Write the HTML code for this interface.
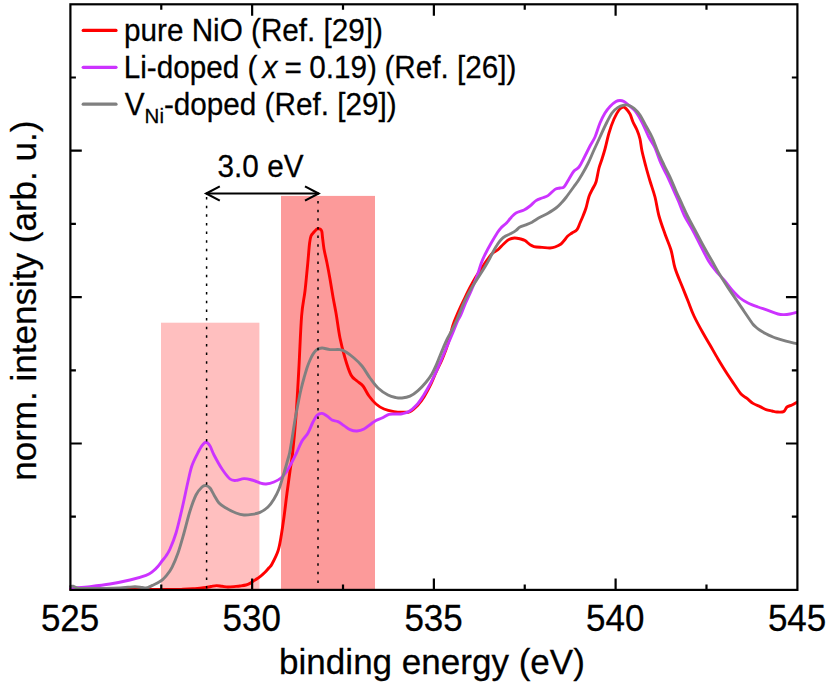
<!DOCTYPE html>
<html><head><meta charset="utf-8"><title>O K-edge XAS NiO</title>
<style>
html,body{margin:0;padding:0;background:#fff;}
body{width:830px;height:684px;overflow:hidden;}
svg{display:block;font-family:"Liberation Sans",sans-serif;}
</style></head><body>
<svg width="830" height="684" viewBox="0 0 830 684">
<rect width="830" height="684" fill="#fff"/>
<!-- shaded regions -->
<rect x="161" y="322.7" width="98.4" height="267.5" fill="#ffbfbf"/>
<rect x="281" y="195.9" width="94" height="394.3" fill="#fc9a9a"/>
<!-- curves -->
<g fill="none" stroke-width="2.9" stroke-linejoin="round" stroke-linecap="round">
<path stroke="#ff0000" d="M70.5 589.0C72.1 588.9 77.2 588.5 80.0 588.2C82.8 588.0 84.7 587.4 87.0 587.5C89.3 587.6 91.2 588.3 94.0 588.6C96.8 588.9 99.7 589.2 104.0 589.3C108.3 589.4 116.0 589.2 120.0 589.0C124.0 588.8 125.7 588.2 128.0 588.2C130.3 588.2 130.3 589.0 134.0 589.2C137.7 589.4 143.7 589.5 150.0 589.5C156.3 589.5 166.5 589.5 172.0 589.5C177.5 589.5 179.5 589.4 183.0 589.3C186.5 589.2 190.2 589.0 193.0 588.8C195.8 588.6 197.8 588.3 200.0 588.1C202.2 587.9 204.2 587.7 206.0 587.4C207.8 587.1 209.2 586.8 211.0 586.5C212.8 586.2 214.7 585.6 216.5 585.6C218.3 585.6 220.1 586.1 222.0 586.3C223.9 586.5 226.0 587.0 228.0 587.0C230.0 587.0 232.0 586.8 234.0 586.6C236.0 586.4 238.0 586.3 240.0 586.0C242.0 585.7 244.3 585.4 246.0 585.0C247.7 584.6 248.7 584.1 250.0 583.4C251.3 582.7 252.8 581.4 254.0 580.6C255.2 579.8 256.0 579.5 257.0 578.8C258.0 578.1 259.0 577.4 260.0 576.6C261.0 575.8 262.0 575.1 263.0 574.2C264.0 573.3 265.0 572.4 266.0 571.3C267.0 570.2 268.0 569.0 269.0 567.8C270.0 566.6 270.5 566.8 272.0 564.0C273.5 561.2 276.5 555.5 278.0 551.0C279.5 546.5 280.0 542.7 281.0 537.0C282.0 531.3 283.0 524.3 284.0 517.0C285.0 509.7 286.0 500.7 287.0 493.0C288.0 485.3 289.1 477.7 290.0 471.0C290.9 464.3 291.6 462.2 292.6 453.0C293.6 443.8 294.9 430.5 296.0 416.0C297.1 401.5 298.1 382.7 299.0 366.0C299.9 349.3 300.6 328.5 301.6 316.0C302.6 303.5 304.0 299.5 305.0 291.0C306.0 282.5 306.8 273.0 307.6 265.0C308.4 257.0 309.0 247.8 309.6 243.0C310.2 238.2 310.3 237.8 311.0 236.0C311.7 234.2 313.0 233.2 314.0 232.0C315.0 230.8 316.1 229.7 316.8 229.1C317.6 228.5 317.9 228.7 318.5 228.7C319.1 228.7 319.8 228.8 320.4 229.2C320.9 229.6 321.4 229.7 321.8 231.3C322.2 232.9 322.3 236.1 322.7 239.0C323.1 241.9 323.3 245.0 324.0 249.0C324.7 253.0 326.0 258.0 327.0 263.0C328.0 268.0 329.0 273.3 330.0 279.0C331.0 284.7 332.0 291.3 333.0 297.0C334.0 302.7 334.8 306.2 336.0 313.0C337.2 319.8 338.5 330.5 340.0 338.0C341.5 345.5 343.2 351.8 345.0 358.0C346.8 364.2 349.0 371.2 351.0 375.0C353.0 378.8 355.0 379.2 357.0 381.0C359.0 382.8 361.0 383.5 363.0 386.0C365.0 388.5 366.8 393.0 369.0 396.0C371.2 399.0 373.5 401.8 376.0 404.0C378.5 406.2 381.0 407.7 384.0 409.0C387.0 410.3 391.0 411.1 394.0 411.6C397.0 412.1 399.3 412.2 402.0 412.2C404.7 412.2 407.3 412.8 410.0 411.6C412.7 410.4 415.7 407.4 418.0 405.0C420.3 402.6 422.0 400.2 424.0 397.0C426.0 393.8 428.0 390.2 430.0 386.0C432.0 381.8 434.1 376.5 436.2 372.0C438.2 367.5 440.2 364.0 442.3 359.0C444.4 354.0 446.8 347.5 448.5 342.0C450.2 336.5 451.3 330.4 452.7 326.0C454.1 321.6 454.8 320.0 456.6 315.8C458.4 311.6 461.2 305.6 463.4 301.0C465.6 296.4 467.6 292.0 469.7 288.0C471.8 284.0 473.5 280.8 475.8 277.0C478.1 273.2 481.1 268.8 483.7 265.0C486.3 261.2 489.4 256.5 491.7 254.0C494.0 251.5 495.6 251.7 497.6 250.0C499.6 248.3 501.7 245.7 503.6 244.0C505.5 242.3 507.1 240.6 508.9 239.6C510.7 238.6 512.5 238.1 514.5 238.0C516.5 237.9 519.0 238.6 520.8 239.0C522.5 239.4 523.5 239.7 525.0 240.6C526.5 241.5 528.5 243.6 530.0 244.6C531.5 245.6 532.0 246.1 534.0 246.6C536.0 247.1 539.3 247.2 542.0 247.4C544.7 247.6 547.8 248.1 550.0 248.0C552.2 247.9 553.2 247.7 555.0 247.0C556.8 246.3 559.3 245.2 561.0 244.0C562.7 242.8 563.9 240.8 565.0 239.5C566.1 238.2 566.3 237.3 567.5 236.2C568.7 235.1 570.4 234.1 572.0 233.0C573.6 231.9 575.7 231.3 577.0 229.6C578.3 227.9 579.0 225.3 580.0 223.0C581.0 220.7 582.0 218.5 583.0 216.0C584.0 213.5 585.0 211.2 586.0 208.0C587.0 204.8 587.9 199.7 589.0 196.5C590.1 193.3 591.3 191.4 592.5 189.0C593.7 186.6 594.9 185.5 596.0 182.0C597.1 178.5 598.0 171.8 599.0 168.0C600.0 164.2 601.0 162.2 602.0 159.0C603.0 155.8 603.8 153.3 605.0 149.0C606.2 144.7 607.5 138.0 609.0 133.0C610.5 128.0 612.3 122.8 614.0 119.0C615.7 115.2 617.5 112.0 619.0 110.0C620.5 108.0 621.8 107.2 623.0 107.0C624.2 106.8 624.8 107.4 626.0 108.6C627.2 109.8 628.8 111.8 630.0 114.0C631.2 116.2 631.8 119.3 633.0 122.0C634.2 124.7 635.8 127.2 637.0 130.0C638.2 132.8 639.2 135.5 640.0 139.0C640.8 142.5 641.0 146.3 642.0 151.0C643.0 155.7 644.7 162.0 646.0 167.0C647.3 172.0 648.5 176.0 650.0 181.0C651.5 186.0 653.5 191.2 655.0 197.0C656.5 202.8 657.3 209.8 659.0 216.0C660.7 222.2 663.0 228.3 665.0 234.0C667.0 239.7 669.3 244.3 671.0 250.0C672.7 255.7 673.2 262.0 675.0 268.0C676.8 274.0 679.8 280.5 682.0 286.0C684.2 291.5 686.0 296.0 688.0 301.0C690.0 306.0 691.5 310.7 694.0 316.0C696.5 321.3 700.3 328.2 703.0 333.0C705.7 337.8 707.5 340.7 710.0 345.0C712.5 349.3 715.3 354.5 718.0 359.0C720.7 363.5 723.3 367.8 726.0 372.0C728.7 376.2 731.5 380.3 734.0 384.0C736.5 387.7 738.8 391.6 741.0 394.0C743.2 396.4 745.0 396.8 747.0 398.4C749.0 400.0 750.8 402.0 753.0 403.4C755.2 404.8 757.8 405.6 760.0 406.6C762.2 407.6 764.0 408.9 766.0 409.6C768.0 410.3 770.2 410.6 772.0 411.0C773.8 411.4 775.1 411.9 777.0 412.0C778.9 412.1 781.9 412.4 783.6 411.6C785.3 410.8 785.6 408.1 787.0 407.0C788.4 405.9 790.4 405.8 792.0 405.0C793.6 404.2 795.8 402.8 796.5 402.4"/>
<path stroke="#cc33ff" d="M70.5 588.5C70.9 588.4 69.8 588.3 73.0 588.0C76.2 587.7 83.8 587.3 90.0 586.6C96.2 585.9 103.3 585.1 110.0 584.0C116.7 582.9 124.0 581.4 130.0 580.0C136.0 578.6 142.2 576.8 146.0 575.4C149.8 574.0 150.4 573.2 152.5 571.6C154.6 570.0 156.7 567.9 158.3 566.0C160.0 564.1 161.1 562.2 162.4 560.5C163.7 558.8 164.7 557.9 166.0 556.0C167.3 554.1 168.3 552.8 170.0 549.0C171.7 545.2 174.0 539.7 176.0 533.0C178.0 526.3 180.0 517.6 182.0 509.0C184.0 500.4 186.3 488.8 188.0 481.5C189.7 474.2 190.3 470.3 192.0 465.5C193.7 460.7 196.3 455.9 198.0 452.6C199.7 449.3 200.7 447.3 202.0 445.6C203.3 443.9 204.7 442.2 206.0 442.3C207.3 442.4 208.7 443.9 210.0 446.0C211.3 448.1 212.0 451.2 214.0 455.0C216.0 458.8 219.3 465.0 222.0 469.0C224.7 473.0 227.7 477.1 230.0 479.0C232.3 480.9 233.7 480.5 236.0 480.4C238.3 480.3 241.3 478.7 244.0 478.6C246.7 478.5 249.3 479.3 252.0 480.0C254.7 480.7 257.7 482.3 260.0 483.0C262.3 483.7 263.7 484.2 266.0 484.0C268.3 483.8 271.5 483.0 274.0 482.0C276.5 481.0 278.8 479.8 281.0 478.0C283.2 476.2 285.2 473.7 287.0 471.0C288.8 468.3 290.4 465.0 292.0 462.0C293.6 459.0 294.8 456.5 296.5 453.0C298.2 449.5 300.1 444.3 302.0 441.0C303.9 437.7 306.2 436.2 308.0 433.0C309.8 429.8 311.5 424.9 313.0 422.0C314.5 419.1 315.5 416.8 317.0 415.4C318.5 414.0 320.3 413.3 322.0 413.4C323.7 413.5 325.3 414.9 327.0 416.0C328.7 417.1 330.2 419.1 332.0 420.0C333.8 420.9 336.0 420.7 338.0 421.6C340.0 422.5 342.0 424.3 344.0 425.6C346.0 426.9 347.8 428.7 350.0 429.6C352.2 430.5 354.7 431.1 357.0 431.0C359.3 430.9 361.7 430.2 364.0 429.0C366.3 427.8 369.0 425.4 371.0 424.0C373.0 422.6 374.2 421.4 376.0 420.4C377.8 419.4 379.8 419.0 382.0 418.0C384.2 417.0 386.7 415.1 389.0 414.4C391.3 413.7 393.8 414.1 396.0 414.0C398.2 413.9 399.8 414.2 402.0 413.8C404.2 413.4 406.6 413.1 409.0 411.6C411.4 410.1 414.2 407.6 416.6 405.0C419.0 402.4 421.0 399.3 423.2 396.0C425.4 392.7 427.5 388.8 429.6 385.0C431.7 381.2 433.7 377.0 435.6 373.0C437.5 369.0 439.0 365.2 440.8 361.0C442.6 356.8 444.4 352.5 446.3 348.0C448.2 343.5 450.4 338.5 452.3 334.0C454.2 329.5 456.2 324.2 457.6 321.0C459.0 317.8 459.5 317.8 460.8 315.0C462.1 312.2 463.4 308.2 465.2 304.0C467.0 299.8 469.5 294.8 471.5 290.0C473.5 285.2 475.8 279.5 477.4 275.0C479.0 270.5 480.0 266.5 481.3 263.0C482.6 259.5 483.7 257.3 485.3 254.0C486.9 250.7 489.2 246.5 491.2 243.0C493.2 239.5 495.6 235.5 497.2 233.0C498.8 230.5 499.3 229.7 500.9 228.0C502.4 226.3 504.8 224.8 506.5 223.0C508.2 221.2 509.6 219.1 511.2 217.4C512.8 215.7 513.9 214.2 516.0 213.0C518.1 211.8 521.7 211.2 524.0 210.0C526.3 208.8 528.0 207.6 530.0 206.0C532.0 204.4 534.0 201.9 536.0 200.6C538.0 199.3 540.0 198.8 542.0 198.0C544.0 197.2 545.8 197.0 548.0 195.6C550.2 194.2 553.0 190.7 555.0 189.4C557.0 188.1 558.5 188.4 560.0 188.0C561.5 187.6 562.5 188.5 564.0 187.0C565.5 185.5 567.3 181.7 569.0 179.0C570.7 176.3 572.3 173.0 574.0 171.0C575.7 169.0 577.3 169.2 579.0 167.0C580.7 164.8 582.2 161.5 584.0 158.0C585.8 154.5 588.2 149.5 590.0 146.0C591.8 142.5 593.3 140.8 595.0 137.0C596.7 133.2 598.3 127.0 600.0 123.0C601.7 119.0 603.3 115.8 605.0 113.0C606.7 110.2 608.2 108.3 610.0 106.4C611.8 104.5 614.3 102.5 616.0 101.5C617.7 100.5 618.7 100.5 620.0 100.5C621.3 100.5 622.5 100.7 624.0 101.5C625.5 102.3 627.0 103.7 629.0 105.4C631.0 107.2 633.8 109.1 636.0 112.0C638.2 114.9 640.3 118.8 642.4 123.0C644.5 127.2 646.7 132.9 648.8 137.0C650.9 141.1 652.8 143.2 654.8 147.5C656.8 151.8 658.8 158.4 660.8 163.0C662.8 167.6 664.7 170.8 666.7 175.0C668.7 179.2 670.7 183.7 672.6 188.0C674.5 192.3 676.4 196.3 678.4 201.0C680.4 205.7 682.2 211.2 684.6 216.0C687.0 220.8 689.9 225.0 692.6 230.0C695.3 235.0 698.1 240.8 700.8 246.0C703.5 251.2 706.1 256.8 708.6 261.0C711.1 265.2 713.4 267.8 716.0 271.0C718.6 274.2 721.3 276.8 724.0 280.0C726.7 283.2 729.3 287.0 732.0 290.0C734.7 293.0 737.3 295.8 740.0 298.0C742.7 300.2 745.0 301.5 748.0 303.0C751.0 304.5 754.7 305.8 758.0 307.0C761.3 308.2 764.7 309.2 768.0 310.4C771.3 311.6 775.3 313.3 778.0 314.0C780.7 314.7 782.0 314.6 784.0 314.6C786.0 314.6 787.9 314.4 790.0 314.0C792.1 313.6 795.4 312.7 796.5 312.4"/>
<path stroke="#808080" d="M70.5 586.5C70.9 586.5 71.8 585.9 73.0 586.2C74.2 586.5 75.2 587.8 78.0 588.2C80.8 588.6 85.5 588.5 90.0 588.5C94.5 588.5 100.0 588.6 105.0 588.5C110.0 588.4 116.2 588.2 120.0 588.0C123.8 587.8 125.5 587.5 128.0 587.3C130.5 587.1 132.7 586.8 135.0 586.8C137.3 586.8 140.0 587.3 142.0 587.5C144.0 587.7 145.2 588.1 147.0 587.8C148.8 587.4 150.6 586.3 152.5 585.4C154.4 584.5 156.6 583.5 158.3 582.5C160.0 581.5 161.2 580.9 162.6 579.6C164.0 578.3 165.4 576.8 167.0 574.8C168.6 572.8 170.2 570.9 172.0 567.3C173.8 563.7 176.0 558.7 178.0 553.0C180.0 547.3 182.0 540.0 184.0 533.0C186.0 526.0 188.0 517.3 190.0 511.0C192.0 504.7 194.0 499.0 196.0 495.0C198.0 491.0 200.3 488.6 202.0 487.0C203.7 485.4 204.7 485.4 206.0 485.6C207.3 485.8 208.7 486.4 210.0 488.0C211.3 489.6 212.5 492.5 214.0 495.0C215.5 497.5 217.0 500.8 219.0 503.0C221.0 505.2 223.2 506.3 226.0 508.0C228.8 509.7 233.0 511.8 236.0 513.0C239.0 514.2 241.3 514.8 244.0 515.0C246.7 515.2 249.3 514.8 252.0 514.4C254.7 514.0 257.3 513.6 260.0 512.4C262.7 511.2 265.7 509.2 268.0 507.0C270.3 504.8 272.2 502.0 274.0 499.0C275.8 496.0 277.3 493.3 279.0 489.0C280.7 484.7 282.5 478.0 284.0 473.0C285.5 468.0 287.1 462.3 288.0 459.0C288.9 455.7 288.9 456.3 289.6 453.0C290.3 449.7 291.1 444.4 292.0 439.0C292.9 433.6 293.9 426.3 294.9 420.5C295.9 414.7 297.0 409.2 298.0 404.0C299.0 398.8 300.0 393.8 301.0 389.5C302.0 385.2 302.9 381.8 304.0 378.0C305.1 374.2 306.2 370.2 307.3 367.0C308.4 363.8 309.5 361.3 310.5 359.0C311.5 356.7 312.5 354.9 313.5 353.4C314.5 351.9 315.1 350.9 316.5 350.0C317.9 349.1 319.8 348.1 322.0 348.0C324.2 347.9 327.0 349.3 330.0 349.6C333.0 349.9 337.3 349.2 340.0 349.6C342.7 350.0 343.7 350.6 346.0 352.0C348.3 353.4 351.3 355.7 354.0 358.0C356.7 360.3 359.3 362.7 362.0 366.0C364.7 369.3 367.3 374.3 370.0 378.0C372.7 381.7 375.0 385.2 378.0 388.0C381.0 390.8 385.0 393.4 388.0 395.0C391.0 396.6 393.7 397.1 396.0 397.6C398.3 398.1 399.7 398.2 402.0 398.0C404.3 397.8 407.3 397.4 410.0 396.2C412.7 395.0 415.4 392.9 418.0 390.6C420.6 388.3 423.5 385.3 425.8 382.5C428.1 379.7 430.2 376.8 431.9 373.9C433.6 371.0 434.9 368.0 436.2 365.1C437.5 362.2 438.6 359.2 439.8 356.3C441.0 353.4 442.2 350.4 443.4 347.5C444.6 344.6 445.8 341.6 447.2 338.8C448.6 336.1 449.8 334.3 451.5 331.0C453.2 327.7 455.0 323.9 457.2 319.0C459.4 314.1 462.1 306.4 464.5 301.3C466.9 296.2 468.8 292.6 471.3 288.2C473.9 283.8 477.5 278.7 479.8 275.0C482.1 271.3 483.6 269.0 485.3 266.2C487.0 263.4 488.5 260.8 489.8 258.3C491.1 255.8 492.2 253.5 493.4 251.3C494.6 249.1 495.6 247.1 496.9 245.2C498.2 243.2 499.8 241.1 501.2 239.6C502.6 238.1 504.0 237.1 505.6 236.1C507.2 235.1 509.1 234.6 510.9 233.6C512.6 232.6 514.6 231.4 516.1 230.3C517.6 229.2 518.4 228.0 520.0 227.1C521.6 226.2 524.0 225.6 526.0 224.8C528.0 224.0 529.7 223.4 532.0 222.2C534.3 220.9 537.3 218.8 540.0 217.3C542.7 215.8 545.3 214.8 548.0 213.2C550.7 211.6 553.7 209.8 556.0 208.0C558.3 206.2 560.3 203.9 562.0 202.2C563.7 200.4 564.7 199.2 566.0 197.5C567.3 195.8 568.7 193.8 570.0 192.0C571.3 190.2 572.7 188.3 574.0 186.5C575.3 184.7 576.7 183.0 578.0 181.0C579.3 179.0 580.3 177.4 582.0 174.5C583.7 171.6 586.0 167.6 588.0 163.5C590.0 159.4 592.0 154.4 594.0 150.0C596.0 145.6 598.0 141.3 600.0 137.0C602.0 132.7 604.0 128.0 606.0 124.0C608.0 120.0 610.0 115.8 612.0 113.0C614.0 110.2 616.0 108.7 618.0 107.4C620.0 106.1 622.3 105.5 624.0 105.1C625.7 104.7 626.3 104.6 628.0 105.1C629.7 105.6 632.0 106.6 634.0 108.3C636.0 110.0 638.0 112.0 640.0 115.0C642.0 118.0 644.0 122.3 646.0 126.0C648.0 129.7 650.0 132.7 652.0 137.0C654.0 141.3 656.0 147.3 658.0 152.0C660.0 156.7 662.0 160.8 664.0 165.0C666.0 169.2 668.0 172.7 670.0 177.0C672.0 181.3 674.0 186.5 676.0 191.0C678.0 195.5 680.1 199.8 682.0 204.0C683.9 208.2 685.2 211.3 687.5 216.0C689.8 220.7 693.2 226.8 696.0 232.0C698.8 237.2 701.3 242.2 704.0 247.0C706.7 251.8 709.3 256.3 712.0 261.0C714.7 265.7 717.3 270.6 720.0 275.0C722.7 279.4 725.3 283.5 728.0 287.6C730.7 291.7 733.3 295.5 736.0 299.4C738.7 303.3 741.5 307.5 744.0 311.2C746.5 314.9 749.5 319.3 751.0 321.5C752.5 323.7 752.2 323.3 753.0 324.2C753.8 325.1 754.7 326.0 755.5 326.8C756.3 327.6 756.9 328.1 758.0 328.9C759.1 329.7 760.7 330.7 762.0 331.5C763.3 332.3 764.5 333.0 766.0 333.8C767.5 334.6 769.3 335.5 771.0 336.2C772.7 336.9 773.5 337.4 776.0 338.2C778.5 339.0 782.6 340.3 786.0 341.2C789.4 342.1 794.8 343.2 796.5 343.6"/>
</g>
<!-- dotted guides -->
<g stroke="#000" stroke-width="1.5" fill="none">
<path stroke-dasharray="2.5 6.145" d="M206.6 197V590"/>
<path stroke-dasharray="2.5 6.12" d="M318 201.1V590"/>
</g>
<!-- arrow -->
<g stroke="#000" stroke-width="2.15" fill="none" stroke-linecap="butt" stroke-linejoin="miter">
<path d="M206 193.5H319"/>
<path d="M219.8 186.4L206.2 193.5L219.8 200.6"/>
<path d="M305 186.4L318.6 193.5L305 200.6"/>
</g>
<!-- frame and ticks -->
<g stroke="#000" stroke-width="2.2" fill="none" stroke-linecap="butt">
<rect x="70.4" y="4.3" width="727.0" height="585.6"/>
<path d="M161.27 589.90v-5.5M161.27 4.30v5.5"/><path d="M252.14 589.90v-11.4M252.14 4.30v11.4"/><path d="M343.01 589.90v-5.5M343.01 4.30v5.5"/><path d="M433.88 589.90v-11.4M433.88 4.30v11.4"/><path d="M524.74 589.90v-5.5M524.74 4.30v5.5"/><path d="M615.61 589.90v-11.4M615.61 4.30v11.4"/><path d="M706.48 589.90v-5.5M706.48 4.30v5.5"/><path d="M70.40 516.70h5.5M797.35 516.70h-5.5"/><path d="M70.40 443.50h11.4M797.35 443.50h-11.4"/><path d="M70.40 370.30h5.5M797.35 370.30h-5.5"/><path d="M70.40 297.10h11.4M797.35 297.10h-11.4"/><path d="M70.40 223.90h5.5M797.35 223.90h-5.5"/><path d="M70.40 150.70h11.4M797.35 150.70h-11.4"/><path d="M70.40 77.50h5.5M797.35 77.50h-5.5"/>
</g>
<!-- legend -->
<g stroke-width="3.2" stroke-linecap="round">
<path stroke="#ff0000" d="M83.2 30.4H116"/>
<path stroke="#cc33ff" d="M83.2 67.3H116"/>
<path stroke="#808080" d="M83.2 104.2H116"/>
</g>
<g font-size="29.7" fill="#000" stroke="#000" stroke-width="0.25">
<text transform="translate(124 41) scale(1 1.03)">pure NiO (Ref. [29])</text>
<text transform="translate(123.7 77.8) scale(1 1.03)">Li-doped ( <tspan font-style="italic" dx="-3.1">x</tspan><tspan dx="-1"> =</tspan><tspan dx="-0.8"> 0.19)</tspan><tspan dx="-0.8"> (Ref. [26])</tspan></text>
<text transform="translate(124.8 114.6) scale(1 1.03)">V<tspan font-size="20.5" dy="7.8">Ni</tspan><tspan dy="-7.8">-doped (Ref. [29])</tspan></text>
<text transform="translate(217.6 176.9) scale(1 1.08)">3.0 eV</text>
</g>
<!-- axis labels -->
<g font-size="35.05" fill="#000" stroke="#000" stroke-width="0.25">
<text transform="translate(70.1 631.2) scale(1 1.03)" font-size="35" text-anchor="middle">525</text><text transform="translate(251.8 631.2) scale(1 1.03)" font-size="35" text-anchor="middle">530</text><text transform="translate(433.6 631.2) scale(1 1.03)" font-size="35" text-anchor="middle">535</text><text transform="translate(615.3 631.2) scale(1 1.03)" font-size="35" text-anchor="middle">540</text><text transform="translate(797.1 631.2) scale(1 1.03)" font-size="35" text-anchor="middle">545</text>
<text transform="translate(432 673.9) scale(1 1.02)" text-anchor="middle">binding energy (eV)</text>
<text transform="translate(35.8 300.7) rotate(-90) scale(1 1.02)" text-anchor="middle">norm. intensity (arb. u.)</text>
</g>
</svg>
</body></html>
